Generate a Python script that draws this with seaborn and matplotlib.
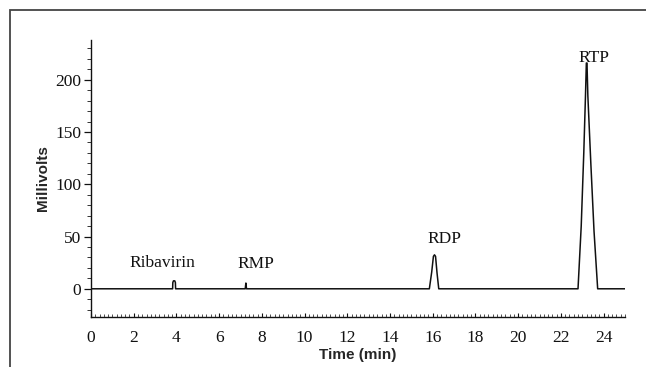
import matplotlib
matplotlib.use("Agg")
import matplotlib.pyplot as plt
import seaborn as sns
import pandas as pd
from matplotlib.patches import Rectangle
from matplotlib.ticker import MultipleLocator

# chromatogram trace (time in min, signal in mV)
time_min = [0.0, 3.82, 3.83, 3.86, 3.92, 3.95, 3.96,
            7.22, 7.25, 7.28,
            15.84, 15.95, 16.03, 16.08, 16.13, 16.20, 16.28,
            22.80, 22.95, 23.07, 23.15, 23.19, 23.22, 23.26, 23.40, 23.55, 23.72,
            25.0]
millivolts = [0.0, 0.0, 6.0, 7.6, 7.6, 6.0, 0.0,
              0.0, 5.5, 0.0,
              0.0, 16.0, 31.0, 32.5, 31.0, 15.0, 0.0,
              0.0, 60.0, 130.0, 185.0, 216.0, 216.0, 185.0, 120.0, 55.0, 0.0,
              0.0]

peak_names = ["Ribavirin", "RMP", "RDP", "RTP"]
peak_label_x = [3.36, 7.7, 16.54, 23.55]
peak_label_y = [24.9, 24.0, 47.8, 221.0]

x_ticks = list(range(0, 25, 2))
y_ticks = [0, 50, 100, 150, 200]

df = pd.DataFrame({"Time (min)": time_min, "Millivolts": millivolts})

sns.set_style("ticks")
plt.rcParams["font.family"] = ["Liberation Serif", "DejaVu Serif"]

fig = plt.figure(figsize=(6.46, 3.67), dpi=100)
ax = fig.add_axes([0.1409, 0.1362, 0.9675 - 0.1409, 0.891 - 0.1362])

sns.lineplot(data=df, x="Time (min)", y="Millivolts", sort=False, estimator=None,
             color="#111111", linewidth=1.1, ax=ax)

for name, lx, ly in zip(peak_names, peak_label_x, peak_label_y):
    ax.text(lx, ly, name, ha="center", va="center", fontsize=12.5, color="#111111")

ax.set_xlim(0, 25)
ax.set_ylim(-27, 238)
ax.set_xticks(x_ticks)
ax.set_yticks(y_ticks)
ax.xaxis.set_minor_locator(MultipleLocator(0.2))
ax.yaxis.set_minor_locator(MultipleLocator(10))
ax.tick_params(axis="x", which="major", direction="in", length=3, width=0.8,
               labelsize=12.5, pad=9, colors="#111111")
ax.tick_params(axis="x", which="minor", direction="in", length=2, width=0.6, colors="#333333")
ax.tick_params(axis="y", which="major", direction="out", length=5, width=0.9,
               labelsize=12.5, pad=2, colors="#111111")
ax.tick_params(axis="y", which="minor", direction="out", length=3, width=0.7, colors="#333333")

sns.despine(ax=ax)
for side in ["left", "bottom"]:
    ax.spines[side].set_linewidth(1.0)
    ax.spines[side].set_color("#111111")

ax.set_xlabel("Time (min)", family=["Liberation Sans", "DejaVu Sans"],
              fontweight="bold", fontsize=11, labelpad=2)
ax.set_ylabel("Millivolts", family=["Liberation Sans", "DejaVu Sans"],
              fontweight="bold", fontsize=11, labelpad=4)

# outer frame of the figure panel
fig.patches.append(Rectangle((10 / 646, -0.2), 1.2, 1.2 - 10 / 367,
                             transform=fig.transFigure, fill=False,
                             edgecolor="#444444", linewidth=1.3))

fig.savefig("out.png", dpi=100)
